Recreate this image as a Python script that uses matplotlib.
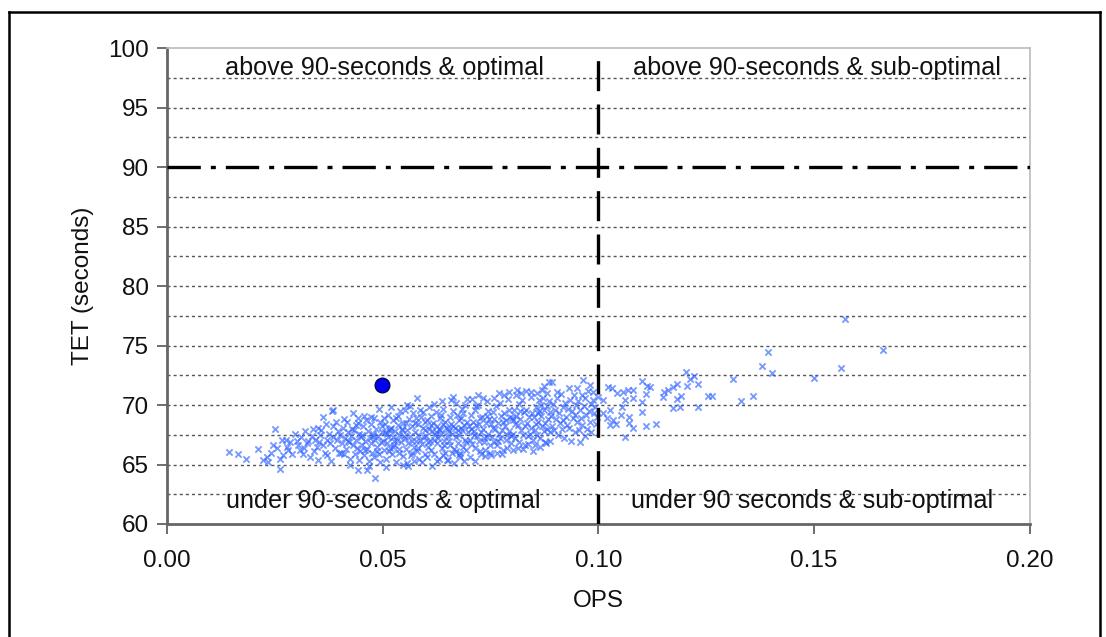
import matplotlib
matplotlib.use("Agg")
import matplotlib.pyplot as plt
from matplotlib.lines import Line2D

plt.rcParams['font.family'] = ['Liberation Sans', 'DejaVu Sans']

# ---- data ----
ops_a = [0.0144, 0.0183, 0.0165, 0.0222, 0.0231, 0.0234, 0.021, 0.024, 0.0245,
         0.025, 0.0262, 0.0262, 0.0269, 0.028, 0.0266, 0.0275, 0.0285, 0.0297, 0.029, 0.0255, 0.0278,
         0.0304, 0.0308, 0.0318, 0.0324, 0.0331, 0.0343, 0.031, 0.032, 0.0335, 0.034, 0.0315, 0.0338, 0.0328, 0.0347, 0.0302,
         0.035, 0.0355, 0.0362, 0.0362, 0.0366, 0.0371, 0.0378, 0.0385, 0.0385, 0.0394, 0.035, 0.0382, 0.0385, 0.0358,
         0.0368, 0.0375, 0.0389, 0.0397, 0.0392, 0.0372, 0.0352, 0.0398, 0.0381]
tet_a = [66.05, 65.5, 65.9, 65.4, 65.6, 65.2, 66.3, 66.0, 66.6,
         68.0, 64.6, 65.5, 65.8, 66.2, 67.1, 67.1, 66.9, 67.6, 65.9, 66.4, 66.5,
         66.6, 66.2, 66.4, 66.8, 65.6, 67.1, 67.3, 67.8, 67.4, 66.1, 65.9, 68.0, 67.0, 66.5, 67.0,
         68.1, 67.5, 69.0, 66.6, 66.0, 67.1, 66.8, 68.2, 67.3, 67.1, 65.4, 69.5, 69.6, 67.9,
         68.4, 67.6, 66.4, 67.8, 68.6, 65.8, 66.9, 66.0, 65.3]

ops_b = [0.0431, 0.0443, 0.0443, 0.0402, 0.0405, 0.0408, 0.041, 0.0413, 0.0416, 0.0418, 0.042, 0.0422, 0.0425,
         0.0427, 0.0429, 0.0432, 0.0434, 0.0436, 0.0438, 0.044, 0.0442, 0.0445, 0.0447, 0.0449, 0.0404, 0.0411,
         0.0424, 0.0437, 0.0446, 0.0419,
         0.0463, 0.0482, 0.0473, 0.0491, 0.0451, 0.0453, 0.0455, 0.0457, 0.0459, 0.0461, 0.0464, 0.0466, 0.0468,
         0.047, 0.0472, 0.0474, 0.0476, 0.0478, 0.048, 0.0483, 0.0485, 0.0487, 0.0489, 0.0492, 0.0494, 0.0496,
         0.0498, 0.0456, 0.0469, 0.0481, 0.0493, 0.0458, 0.0477, 0.0488, 0.0499]
tet_b = [69.3, 68.5, 64.5, 67.5, 66.8, 68.1, 65.9, 67.2, 66.3, 68.6, 67.7, 66.9, 65.5,
         67.4, 68.0, 66.6, 67.9, 65.9, 67.1, 66.4, 68.9, 67.6, 66.1, 67.3, 66.0, 68.8,
         65.0, 68.3, 65.4, 67.0,
         64.5, 63.9, 69.0, 69.7, 67.5, 66.6, 68.2, 65.8, 67.0, 68.7, 66.3, 67.8, 65.3,
         67.2, 66.8, 68.4, 66.0, 67.6, 65.6, 67.1, 68.0, 66.5, 67.4, 65.9, 68.6, 66.9,
         67.7, 69.1, 64.9, 68.9, 65.2, 66.2, 67.4, 66.1, 68.2]

ops_c = [0.0501, 0.0503, 0.0505, 0.0507, 0.0509, 0.0511, 0.0513, 0.0515, 0.0517, 0.0519, 0.0521, 0.0523, 0.0525,
         0.0527, 0.0529, 0.0531, 0.0533, 0.0535, 0.0537, 0.0539, 0.0541, 0.0543, 0.0545, 0.0547, 0.0549, 0.0502,
         0.0508, 0.0514, 0.052, 0.0526, 0.0532, 0.0538, 0.0544, 0.0548, 0.0512, 0.0524, 0.0536, 0.0546, 0.0506, 0.0518,
         0.0556, 0.058, 0.0556, 0.0551, 0.0553, 0.0555, 0.0557, 0.0559, 0.0561, 0.0563, 0.0565, 0.0567, 0.0569,
         0.0571, 0.0573, 0.0575, 0.0577, 0.0579, 0.0581, 0.0583, 0.0585, 0.0587, 0.0589, 0.0591, 0.0593, 0.0595,
         0.0597, 0.0599, 0.0552, 0.0558, 0.0564, 0.0572, 0.0578, 0.0586, 0.0592, 0.0598, 0.0568, 0.0582, 0.0594, 0.0576]
tet_c = [67.0, 66.2, 68.4, 65.5, 67.6, 66.8, 69.2, 67.9, 66.4, 68.1, 65.9, 67.3, 68.7,
         66.6, 67.8, 65.2, 67.1, 68.3, 66.0, 67.5, 69.5, 66.9, 68.0, 65.7, 67.4, 68.9,
         64.8, 66.1, 69.8, 67.0, 68.9, 66.3, 67.9, 65.0, 67.3, 66.5, 69.1, 68.5, 67.7, 68.0,
         70.0, 70.6, 65.1, 67.2, 68.5, 66.3, 67.9, 66.8, 68.8, 67.4, 65.8, 68.2, 67.0,
         69.3, 66.5, 67.7, 68.9, 66.1, 67.5, 68.4, 65.5, 67.1, 69.0, 66.7, 68.1, 67.3,
         65.9, 68.6, 69.6, 64.9, 69.9, 65.3, 67.0, 69.6, 65.2, 67.9, 66.0, 66.4, 69.4, 68.5]

ops_d = [0.064, 0.0601, 0.0603, 0.0605, 0.0607, 0.0609, 0.0611, 0.0613, 0.0615, 0.0617, 0.0619, 0.0621, 0.0623,
         0.0625, 0.0627, 0.0629, 0.0631, 0.0633, 0.0635, 0.0637, 0.0639, 0.0641, 0.0643, 0.0645, 0.0647, 0.0649,
         0.0602, 0.0608, 0.0614, 0.062, 0.0626, 0.0632, 0.0638, 0.0644, 0.0648, 0.0606, 0.0618, 0.063, 0.0642, 0.0612,
         0.0624, 0.0636,
         0.0663, 0.066, 0.0679, 0.0651, 0.0653, 0.0655, 0.0657, 0.0659, 0.0661, 0.0664, 0.0666, 0.0668, 0.067,
         0.0672, 0.0674, 0.0676, 0.0678, 0.068, 0.0682, 0.0684, 0.0686, 0.0688, 0.069, 0.0692, 0.0694, 0.0696,
         0.0698, 0.0652, 0.0658, 0.0665, 0.0671, 0.0677, 0.0683, 0.0689, 0.0695, 0.0654, 0.0662, 0.0669, 0.0675,
         0.0681, 0.0687, 0.0693]
tet_d = [65.8, 67.4, 68.7, 66.5, 68.0, 67.0, 69.1, 66.2, 67.8, 68.5, 65.9, 67.5, 69.4,
         66.8, 68.2, 67.2, 65.5, 68.9, 67.6, 66.4, 68.4, 69.7, 67.0, 66.0, 68.1, 67.4,
         65.6, 69.8, 64.9, 70.1, 65.3, 67.9, 70.3, 68.6, 65.4, 66.9, 67.1, 68.0, 66.6, 68.3,
         67.7, 69.2,
         70.7, 66.0, 66.0, 68.0, 67.0, 69.0, 66.6, 68.4, 67.6, 69.5, 66.3, 68.1, 67.3,
         69.2, 66.8, 68.7, 67.5, 65.6, 68.9, 67.9, 66.5, 68.3, 67.1, 70.0, 66.9, 68.6,
         67.7, 65.4, 70.4, 65.1, 70.2, 65.8, 69.7, 65.3, 70.5, 67.8, 68.2, 66.1, 67.9,
         68.1, 69.3, 66.2]

ops_e = [0.0737, 0.0701, 0.0703, 0.0705, 0.0707, 0.0709, 0.0711, 0.0713, 0.0715, 0.0717, 0.0719, 0.0721, 0.0723,
         0.0725, 0.0727, 0.0729, 0.0731, 0.0733, 0.0735, 0.0739, 0.0741, 0.0743, 0.0745, 0.0747, 0.0749, 0.0702,
         0.0708, 0.0714, 0.072, 0.0726, 0.0732, 0.0738, 0.0744, 0.0748, 0.0704, 0.0712, 0.0724, 0.0734, 0.0742, 0.0716,
         0.0751, 0.0753, 0.0755, 0.0757, 0.0759, 0.0761, 0.0763, 0.0765, 0.0767, 0.0769, 0.0771, 0.0773, 0.0775,
         0.0777, 0.0779, 0.0781, 0.0783, 0.0785, 0.0787, 0.0789, 0.0791, 0.0793, 0.0795, 0.0797, 0.0799, 0.0752,
         0.0758, 0.0764, 0.077, 0.0776, 0.0782, 0.0788, 0.0794, 0.0756, 0.0768, 0.078, 0.0792, 0.0798]
tet_e = [66.2, 68.2, 67.1, 69.2, 66.7, 68.6, 67.8, 69.6, 66.4, 68.3, 67.4, 70.0, 67.0,
         68.9, 67.7, 65.9, 69.0, 68.0, 66.9, 68.5, 67.3, 70.3, 67.6, 68.8, 66.6, 65.6,
         70.5, 65.3, 70.8, 66.1, 70.6, 65.7, 69.5, 66.0, 68.0, 67.5, 68.4, 67.2, 69.1, 69.9,
         68.4, 67.3, 69.4, 66.9, 68.8, 68.0, 69.9, 66.6, 68.5, 67.6, 70.2, 67.2, 69.1,
         67.9, 66.2, 69.3, 68.2, 67.1, 68.7, 67.5, 70.5, 67.8, 69.0, 66.8, 68.9, 65.8,
         70.6, 66.0, 71.0, 65.9, 70.8, 66.4, 71.1, 68.1, 67.0, 68.6, 69.6, 67.4]

ops_f = [0.0811, 0.0841, 0.0801, 0.0803, 0.0805, 0.0807, 0.0809, 0.0813, 0.0815, 0.0817, 0.0819, 0.0821, 0.0823,
         0.0825, 0.0827, 0.0829, 0.0831, 0.0833, 0.0835, 0.0837, 0.0839, 0.0843, 0.0845, 0.0847, 0.0849, 0.0802,
         0.0808, 0.0814, 0.082, 0.0826, 0.0832, 0.0838, 0.0844, 0.0848, 0.0806, 0.0818,
         0.0885, 0.0892, 0.0851, 0.0853, 0.0855, 0.0857, 0.0859, 0.0861, 0.0863, 0.0865, 0.0867, 0.0869, 0.0871,
         0.0873, 0.0875, 0.0877, 0.0879, 0.0881, 0.0883, 0.0887, 0.0889, 0.0852, 0.0858, 0.0864, 0.087, 0.0876,
         0.0882, 0.0888, 0.0856, 0.0868, 0.088, 0.0886, 0.0862, 0.0874]
tet_f = [71.3, 67.6, 68.7, 67.6, 69.6, 67.2, 69.1, 68.3, 70.1, 66.9, 68.8, 67.9, 70.4,
         67.5, 69.4, 68.2, 66.6, 69.6, 68.5, 67.4, 69.0, 70.7, 68.1, 69.3, 67.1, 66.2,
         70.8, 66.4, 71.0, 66.3, 71.2, 66.7, 71.1, 66.1, 68.4, 69.5,
         71.9, 71.9, 69.0, 67.9, 69.8, 67.5, 69.3, 68.6, 70.4, 67.2, 69.1, 68.2, 70.6,
         67.8, 69.6, 68.5, 66.8, 69.9, 68.8, 67.7, 69.4, 66.6, 71.0, 66.5, 71.3, 66.9,
         71.0, 67.0, 68.4, 70.0, 68.0, 70.3, 69.5, 71.6]

ops_g = [0.0904, 0.0891, 0.0893, 0.0895, 0.0897, 0.0899, 0.0901, 0.0905, 0.0907, 0.0909, 0.0911, 0.0913, 0.0915,
         0.0917, 0.0919, 0.0921, 0.0923, 0.0925, 0.0927, 0.0929, 0.0931, 0.0933, 0.0935, 0.0937, 0.0939, 0.0941,
         0.0943, 0.0945, 0.0947, 0.0949,
         0.0964, 0.095, 0.0987, 0.0987, 0.0992, 0.0997, 0.0951, 0.0953, 0.0955, 0.0957, 0.0959, 0.0961, 0.0963,
         0.0966, 0.0968, 0.097, 0.0972, 0.0974, 0.0976, 0.0978, 0.098, 0.0982, 0.0984, 0.0989, 0.0994, 0.0999,
         0.0958, 0.0981]
tet_g = [71.1, 69.1, 68.2, 70.1, 67.9, 69.6, 68.8, 70.6, 67.5, 69.3, 68.5, 70.9, 68.0,
         69.8, 68.7, 67.2, 70.2, 69.0, 68.3, 69.7, 71.4, 68.1, 70.4, 67.0, 69.5, 68.9,
         70.8, 67.7, 69.2, 70.0,
         72.1, 71.4, 71.1, 70.4, 69.8, 69.0, 68.6, 70.3, 67.9, 69.6, 68.9, 70.8, 68.3,
         69.9, 67.4, 70.6, 69.2, 68.0, 71.2, 69.5, 68.6, 70.1, 67.7, 69.3, 68.4, 70.7,
         66.9, 71.7]

ops_h = [0.101, 0.1027, 0.1034, 0.1027, 0.1041, 0.102, 0.101, 0.1031, 0.1022, 0.1043, 0.1057, 0.1061, 0.1052,
         0.1054, 0.1068, 0.108, 0.108, 0.1061, 0.1071, 0.1071, 0.108, 0.1101, 0.1112, 0.1119, 0.111, 0.1101,
         0.1101, 0.111, 0.1133, 0.1152, 0.1149, 0.1161, 0.1173, 0.1182, 0.1191, 0.1182, 0.1173, 0.1189, 0.1203,
         0.1212, 0.1221, 0.1231, 0.1205, 0.1231, 0.1254, 0.1263, 0.1312, 0.1330, 0.1358, 0.1380, 0.1393, 0.1402,
         0.1500, 0.1562, 0.1571, 0.1660]
tet_h = [70.4, 69.6, 68.7, 68.3, 68.4, 68.9, 69.3, 71.4, 71.5, 71.0, 71.1, 70.4, 69.2,
         69.8, 71.3, 71.3, 70.6, 67.3, 68.5, 69.0, 68.1, 72.0, 71.6, 71.5, 70.9, 70.25,
         69.4, 68.2, 68.4, 71.1, 70.7, 71.3, 71.5, 71.8, 70.75, 70.5, 69.75, 69.8, 72.8,
         72.2, 72.4, 71.8, 71.6, 69.8, 70.75, 70.75, 72.2, 70.3, 70.75, 73.3, 74.45, 72.7,
         72.3, 73.1, 77.2, 74.6]

highlight_ops = [0.0498]
highlight_tet = [71.7]

x_ticks = [0.00, 0.05, 0.10, 0.15, 0.20]
y_ticks = [60, 65, 70, 75, 80, 85, 90, 95, 100]
tet_limit = 90
ops_limit = 0.10

quadrant_labels = ["above 90-seconds & optimal", "above 90-seconds & sub-optimal",
                   "under 90-seconds & optimal", "under 90 seconds & sub-optimal"]
label_x = [0.0505, 0.1506, 0.0502, 0.1495]
label_y = [98.3, 98.3, 61.9, 61.9]

# ---- figure ----
fig = plt.figure(figsize=(11.06, 6.37), dpi=100)
ax = fig.add_axes([0.151, 0.1774, 0.780, 0.7472])

ax.set_xlim(0, 0.20)
ax.set_ylim(60, 100)

# dotted grid every 2.5
for g in [62.5, 65, 67.5, 70, 72.5, 75, 77.5, 80, 82.5, 85, 87.5, 92.5, 95, 97.5]:
    ax.axhline(g, color='#555555', lw=1.0, ls=(0, (2.2, 2.2)), zorder=1)

all_ops = ops_a + ops_b + ops_c + ops_d + ops_e + ops_f + ops_g + ops_h
all_tet = tet_a + tet_b + tet_c + tet_d + tet_e + tet_f + tet_g + tet_h
ax.scatter(all_ops, all_tet, marker='x', s=20, linewidths=1.3,
           color='#2F62FF', alpha=0.65, zorder=2)
ax.scatter(highlight_ops, highlight_tet, marker='o', s=115, color='#0000EE',
           edgecolors='#000033', linewidths=0.8, zorder=4)

ax.axhline(tet_limit, color='black', lw=2.4, ls=(0, (10, 3, 1.5, 3)), zorder=3)
ax.axvline(ops_limit, color='black', lw=2.4, ls=(0, (9, 4)), zorder=3)

for t, lx, ly in zip(quadrant_labels, label_x, label_y):
    ax.text(lx, ly, t, ha='center', va='center', fontsize=18.2, color='#111111', zorder=5)

ax.set_xticks(x_ticks)
ax.set_xticklabels([f"{v:.2f}" for v in x_ticks])
ax.set_yticks(y_ticks)
ax.tick_params(axis='both', labelsize=17.5, direction='out', length=7, width=1.2,
               colors='#555555', labelcolor='#111111')
ax.tick_params(axis='x', pad=12)
ax.tick_params(axis='y', pad=6)

ax.set_xlabel("OPS", fontsize=17.5, labelpad=13, color='#111111')
ax.set_ylabel("TET (seconds)", fontsize=17.5, labelpad=10, color='#111111')

for s in ['left', 'bottom']:
    ax.spines[s].set_color('#666666')
    ax.spines[s].set_linewidth(2.0)
for s in ['top', 'right']:
    ax.spines[s].set_color('#bbbbbb')
    ax.spines[s].set_linewidth(1.2)

# outer figure border
W, H = 1106, 637
bx0, bx1, by1 = 8.5 / W, 1099.5 / W, 1 - 11.5 / H
fig.add_artist(Line2D([bx0, bx0], [0, by1], color='black', lw=1.8, transform=fig.transFigure))
fig.add_artist(Line2D([bx0, bx1], [by1, by1], color='black', lw=1.8, transform=fig.transFigure))
fig.add_artist(Line2D([bx1, bx1], [0, by1], color='black', lw=1.8, transform=fig.transFigure))

fig.savefig("out.png", dpi=100)
